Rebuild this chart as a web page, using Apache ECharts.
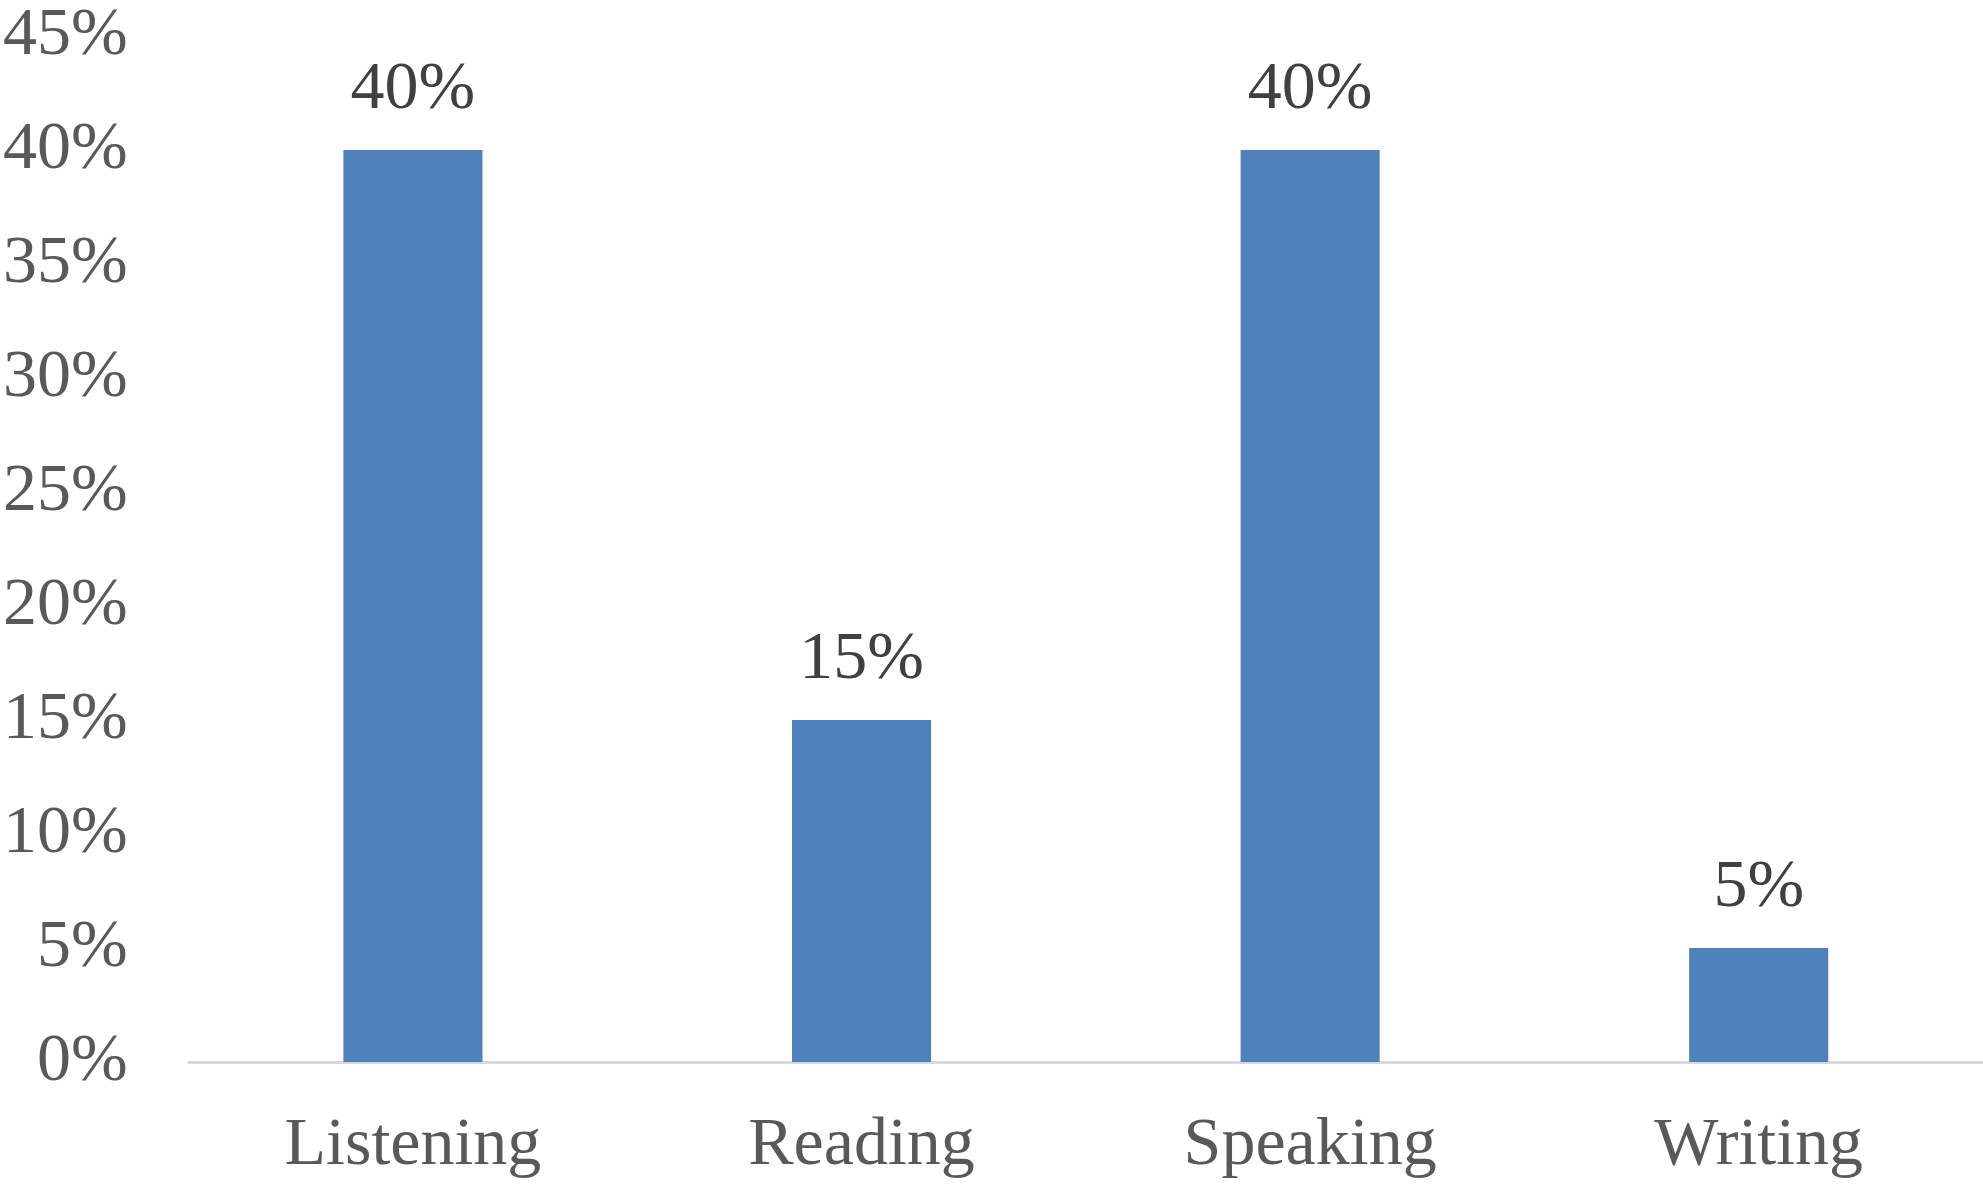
<!DOCTYPE html>
<html>
<head>
<meta charset="utf-8">
<script src="https://cdn.jsdelivr.net/npm/echarts@6/dist/echarts.min.js"></script>
<style>
html,body{margin:0;padding:0;background:#fff;}
#chart{width:1983px;height:1188px;}
</style>
</head>
<body>
<div id="chart"></div>
<script>
const categories = ['Listening', 'Reading', 'Speaking', 'Writing'];
const values = [40, 15, 40, 5];
const yTicks = {min: 0, max: 45, interval: 5};

const chart = echarts.init(document.getElementById('chart'), null, {renderer: 'canvas'});
const font = '"Liberation Serif", "Times New Roman", serif';
chart.setOption({
  animation: false,
  backgroundColor: '#ffffff',
  grid: {left: 187, right: 0, top: 36, bottom: 126, containLabel: false},
  xAxis: {
    type: 'category',
    data: categories,
    axisLine: {show: true, lineStyle: {color: '#d9d9d9', width: 3}},
    axisTick: {show: false},
    axisLabel: {fontFamily: font, fontSize: 68, color: '#595959', margin: 50}
  },
  yAxis: {
    type: 'value',
    min: yTicks.min, max: yTicks.max, interval: yTicks.interval,
    axisLine: {show: false},
    axisTick: {show: false},
    splitLine: {show: false},
    axisLabel: {fontFamily: font, fontSize: 68, color: '#595959', margin: 61, formatter: '{value}%'}
  },
  series: [{
    type: 'bar',
    data: values,
    barWidth: '31%',
    itemStyle: {color: '#4f81bd'},
    label: {show: true, position: 'top', distance: 26, fontFamily: font, fontSize: 68, color: '#404040', formatter: '{c}%'}
  }]
});
</script>
</body>
</html>
